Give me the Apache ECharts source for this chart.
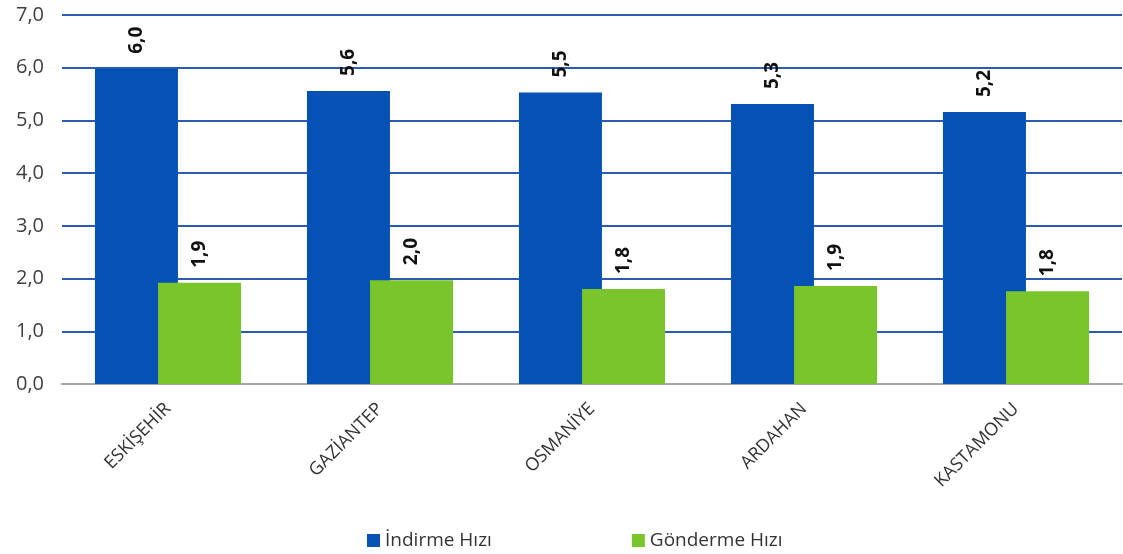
<!DOCTYPE html>
<html><head><meta charset="utf-8">
<script src="https://cdn.jsdelivr.net/npm/echarts@6/dist/echarts.min.js"></script>
<style>html,body{margin:0;padding:0;background:#fff}#c{width:1123px;height:554px}</style>
</head><body><div id="c"></div>
<script>
const categories = ['ESKİŞEHİR','GAZİANTEP','OSMANİYE','ARDAHAN','KASTAMONU'];
const indirme = [5.98, 5.56, 5.53, 5.31, 5.16];
const gonderme = [1.92, 1.97, 1.80, 1.86, 1.76];
const seriesNames = ['İndirme Hızı','Gönderme Hızı'];
const fmt = v => v.toFixed(1).replace('.', ',');
const FONT = "'Open Sans', 'Noto Sans', sans-serif";
const chart = echarts.init(document.getElementById('c'));
const lbl = {show:true, position:'top', rotate:90, distance:15, align:'left', verticalAlign:'middle',
  formatter:p=>fmt(p.value), fontFamily:FONT, fontSize:19, fontWeight:'bold', color:'#111'};
chart.setOption({
  animation:false,
  textStyle:{fontFamily:FONT},
  grid:{left:62, right:1, top:15, bottom:170},
  legend:{top:526, left:362, itemGap:140, itemWidth:13, itemHeight:13, icon:'rect',
    textStyle:{fontFamily:FONT, fontSize:19, color:'#333'}, data:seriesNames},
  xAxis:{type:'category', data:categories,
    axisLine:{lineStyle:{color:'#a6a6a6', width:2}}, axisTick:{show:false},
    axisLabel:{rotate:45, margin:22, fontSize:18, color:'#333', fontFamily:FONT}},
  yAxis:{type:'value', min:0, max:7, interval:1,
    axisLine:{show:false}, axisTick:{show:false},
    splitLine:{lineStyle:{color:'#2b5cb3', width:2}},
    axisLabel:{formatter:v=>fmt(v), fontSize:20, color:'#404040', margin:18, fontFamily:FONT}},
  series:[
    {name:seriesNames[0], type:'bar', data:indirme, barWidth:83, barGap:'-24%',
     itemStyle:{color:'#0552b4'}, label:lbl},
    {name:seriesNames[1], type:'bar', data:gonderme, barWidth:83,
     itemStyle:{color:'#7ac42c'}, label:lbl}
  ]
});
</script></body></html>
